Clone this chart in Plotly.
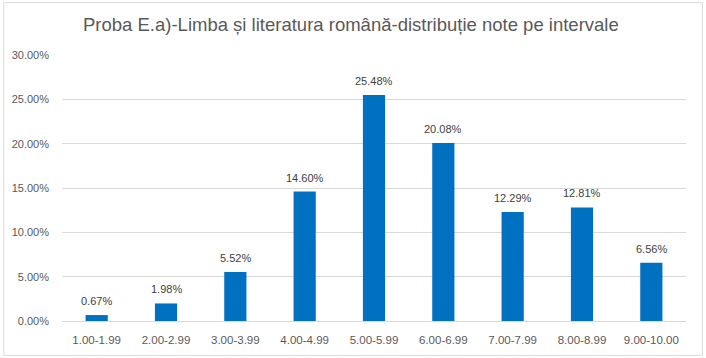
import plotly.graph_objects as go

categories = ["1.00-1.99", "2.00-2.99", "3.00-3.99", "4.00-4.99", "5.00-5.99",
              "6.00-6.99", "7.00-7.99", "8.00-8.99", "9.00-10.00"]
values = [0.67, 1.98, 5.52, 14.60, 25.48, 20.08, 12.29, 12.81, 6.56]
tick_vals = [0, 5, 10, 15, 20, 25, 30]
tick_text = ["0.00%", "5.00%", "10.00%", "15.00%", "20.00%", "25.00%", "30.00%"]

W, H = 706, 358
L, R, T, B = 59, 20, 55, 36
pw, ph = W - L - R, H - T - B

fig = go.Figure(go.Bar(
    x=categories, y=values,
    marker=dict(color="#0070C0", line=dict(width=0)),
    hoverinfo="skip",
))

annotations = [dict(x=c, y=v, xref="x", yref="y", text=f"{v:.2f}%",
                    showarrow=False, yanchor="bottom", yshift=6,
                    font=dict(size=11, color="#404040"))
               for c, v in zip(categories, values)]

fig.update_layout(
    width=W, height=H,
    margin=dict(l=L, r=R, t=T, b=B),
    paper_bgcolor="white", plot_bgcolor="white",
    font=dict(family="Liberation Sans, Arial, sans-serif", color="#595959"),
    title=dict(text="Proba E.a)-Limba și literatura română-distribuție note pe intervale",
               x=0.497, xanchor="center", y=1 - 25 / H, yanchor="middle",
               font=dict(size=18.5, color="#595959")),
    bargap=0.68,
    showlegend=False,
    xaxis=dict(showgrid=False, showline=True, linecolor="#D9D9D9", linewidth=1,
               ticks="", ticklabelstandoff=8, tickfont=dict(size=11.5, color="#595959")),
    yaxis=dict(range=[0, 30], tickvals=tick_vals, ticktext=tick_text,
               showgrid=True, gridcolor="#D9D9D9", gridwidth=1, zeroline=False,
               showline=False, ticks="", ticklabelstandoff=12,
               tickfont=dict(size=11, color="#595959")),
    annotations=annotations,
    shapes=[dict(type="rect", xref="paper", yref="paper",
                 x0=(0.5 - L) / pw, x1=(702.5 - L) / pw,
                 y0=-(356.5 - T - ph) / ph, y1=1 + (T - 2.5) / ph,
                 line=dict(color="#D9D9D9", width=1), fillcolor="rgba(0,0,0,0)")],
)

fig.write_html("out.html", config={"displayModeBar": False},
               post_script="document.body.style.margin='0';")
